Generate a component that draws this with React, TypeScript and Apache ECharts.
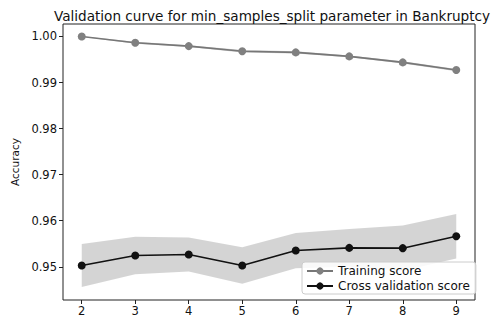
import React, { useEffect, useRef } from "react";
import * as echarts from "echarts";

const paramValues = [2, 3, 4, 5, 6, 7, 8, 9];
const trainMean = [1.0, 0.99864, 0.9979, 0.9968, 0.99654, 0.99567, 0.99437, 0.99271];
const trainStd = [0.00005, 0.0002, 0.0002, 0.00028, 0.00022, 0.0002, 0.00022, 0.00025];
const cvMean = [0.95028, 0.95245, 0.95266, 0.95028, 0.95353, 0.95411, 0.95405, 0.95664];
const cvStd = [0.00468, 0.00408, 0.00368, 0.00397, 0.00383, 0.00412, 0.0049, 0.00483];
const yTicks = [0.95, 0.96, 0.97, 0.98, 0.99, 1.0];
const xTicks = [2, 3, 4, 5, 6, 7, 8, 9];

const FONT = "DejaVu Sans";

function bandSeries(name: string, mean: number[], std: number[], color: string) {
  return {
    name,
    type: "custom",
    silent: true,
    z: 1,
    data: [[paramValues[0], mean[0]]],
    renderItem: (_params: any, api: any) => {
      const upper = paramValues.map((x, i) => api.coord([x, mean[i] + std[i]]));
      const lower = paramValues
        .map((x, i) => api.coord([x, mean[i] - std[i]]))
        .reverse();
      return {
        type: "polygon",
        shape: { points: upper.concat(lower) },
        style: { fill: color, stroke: "none" },
      };
    },
  };
}

export default function App() {
  const ref = useRef<HTMLDivElement>(null);
  useEffect(() => {
    if (!ref.current) return;
    const chart = echarts.init(ref.current, undefined, { renderer: "svg" });
    chart.setOption({
      animation: false,
      title: {
        text: "Validation curve for min_samples_split parameter in Bankruptcy",
        left: 267,
        textAlign: "center",
        top: 4,
        textStyle: { fontFamily: FONT, fontSize: 13.6, fontWeight: "normal", color: "#111" },
      },
      grid: {
        left: 63,
        right: 17,
        top: 24,
        bottom: 23,
        show: true,
        borderColor: "#222",
        borderWidth: 1,
        backgroundColor: "transparent",
      },
      legend: {
        data: ["Training score", "Cross validation score"],
        orient: "vertical",
        left: 302,
        top: 262,
        itemWidth: 26,
        itemHeight: 9,
        itemGap: 3,
        padding: [3, 6, 2, 4],
        borderColor: "#ccc",
        borderWidth: 1,
        borderRadius: 3,
        backgroundColor: "rgba(255,255,255,0.85)",
        textStyle: { fontFamily: FONT, fontSize: 12, color: "#111" },
        z: 10,
      },
      xAxis: {
        type: "value",
        min: 1.65,
        max: 9.35,
        splitLine: { show: false },
        axisLine: { show: false },
        axisTick: { show: true, length: 4, customValues: xTicks, lineStyle: { color: "#222" } },
        axisLabel: {
          customValues: xTicks,
          fontFamily: FONT,
          fontSize: 11.5,
          color: "#111",
          margin: 5,
        },
      },
      yAxis: {
        type: "value",
        min: 0.9428,
        max: 1.0027,
        name: "Accuracy",
        nameLocation: "middle",
        nameGap: 41,
        nameTextStyle: { fontFamily: FONT, fontSize: 10.5, color: "#111" },
        splitLine: { show: false },
        axisLine: { show: false },
        axisTick: { show: true, length: 4, customValues: yTicks, lineStyle: { color: "#222" } },
        axisLabel: {
          customValues: yTicks,
          formatter: (v: number) => v.toFixed(2),
          fontFamily: FONT,
          fontSize: 11.5,
          color: "#111",
          margin: 6,
        },
      },
      series: [
        bandSeries("trainBand", trainMean, trainStd, "rgba(110,110,110,0.35)"),
        bandSeries("cvBand", cvMean, cvStd, "rgba(0,0,0,0.17)"),
        {
          name: "Training score",
          type: "line",
          data: paramValues.map((x, i) => [x, trainMean[i]]),
          symbol: "circle",
          symbolSize: 8,
          color: "#808080",
          lineStyle: { color: "#777", width: 1.6 },
          itemStyle: { color: "#808080" },
          z: 3,
        },
        {
          name: "Cross validation score",
          type: "line",
          data: paramValues.map((x, i) => [x, cvMean[i]]),
          symbol: "circle",
          symbolSize: 8,
          color: "#111",
          lineStyle: { color: "#111", width: 1.6 },
          itemStyle: { color: "#111" },
          z: 3,
        },
      ],
    });
    return () => chart.dispose();
  }, []);
  return (
    <div
      ref={ref}
      style={{ position: "fixed", left: 0, top: 0, width: 492, height: 323, background: "#fff" }}
    />
  );
}
